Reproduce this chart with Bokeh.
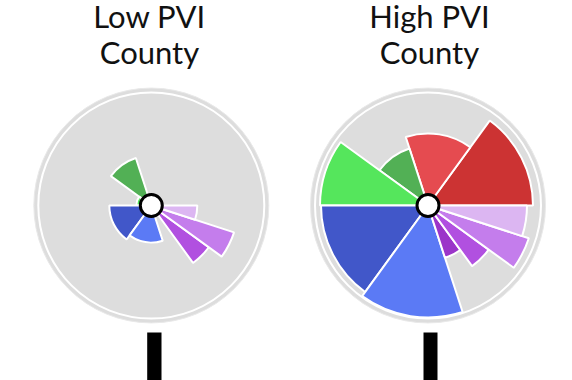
from bokeh.plotting import figure
from bokeh.models import Range1d, ColumnDataSource
from bokeh.embed import file_html
from bokeh.resources import INLINE
from bokeh.core.properties import value
import numpy as np

# ---- data ----
titles = ["Low PVI\nCounty", "High PVI\nCounty"]
segments = ["red_dark", "red_light", "green_dark", "green_light",
            "blue_dark", "blue_light", "purple_1", "purple_2", "purple_3", "purple_4"]
spans_deg = [54, 54, 36, 36, 54, 54, 18, 18, 18, 18]
colors = ["#cc3333", "#e54b50", "#52b055", "#55e65c",
          "#4157c9", "#5b7af5", "#9b35c9", "#b150e0", "#c47dec", "#dcb6f2"]
low_radius = [0, 0, 50, 15, 42, 37, 9, 71, 87, 46]
high_radius = [105, 72, 60, 108, 107, 112, 55, 75, 106, 99]

# ---- layout (page px -> data) ----
W, H = 572, 380
def px(x):
    return x
def py(y):
    return H - y

p = figure(width=W, height=H, output_backend="svg", toolbar_location=None,
           x_range=Range1d(0, W), y_range=Range1d(0, H), min_border=0)
p.axis.visible = False
p.grid.visible = False
p.outline_line_color = None
p.background_fill_color = "white"
p.border_fill_color = "white"

centers = [(150.8, 205), (427.5, 205)]
title_x = [149, 429]
ends = np.cumsum(spans_deg)
starts = ends - np.array(spans_deg)

for (cx, cy), tx, radii, title in zip(centers, title_x, [low_radius, high_radius], titles):
    x0, y0 = px(cx), py(cy)
    # background disk
    p.circle(x=[x0], y=[y0], radius=117.5, fill_color="#dddddd",
             line_color="#e9e9e9", line_width=1)
    p.circle(x=[x0], y=[y0], radius=113, fill_color=None,
             line_color="white", line_width=2)
    src = ColumnDataSource(dict(
        x=[x0] * len(segments), y=[y0] * len(segments),
        r=radii, s=[float(v) for v in starts], e=[float(v) for v in ends], c=colors))
    p.wedge(x="x", y="y", radius="r", start_angle="s", end_angle="e",
            start_angle_units="deg", end_angle_units="deg",
            fill_color="c", line_color="white",
            line_width=2, source=src)
    # center hub
    p.circle(x=[x0], y=[y0], radius=11, fill_color="white",
             line_color="black", line_width=3)
    # title
    l1, l2 = title.split("\n")
    p.text(x=[px(tx), px(tx)], y=[py(15), py(51)], text=[l1, l2],
           text_align="center", text_baseline="alphabetic",
           text_font=value("Lato"), text_font_size="31px", text_color="#111111")

# stems below
bar_left = [146.7, 423]
bar_right = [161, 437]
p.quad(left=[px(v) for v in bar_left], right=[px(v) for v in bar_right],
       bottom=[0, 0], top=[py(332), py(332)], fill_color="black", line_color=None)

open("out.html", "w").write(file_html(p, INLINE))
